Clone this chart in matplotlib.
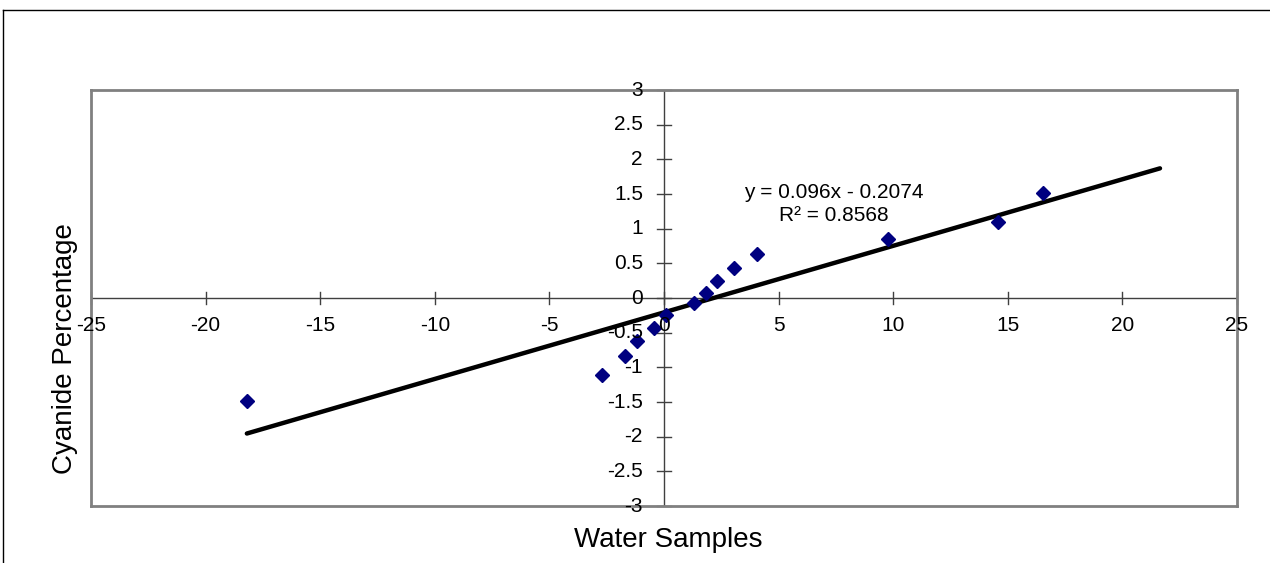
import numpy as np
import matplotlib
matplotlib.use("Agg")
import matplotlib.pyplot as plt
from matplotlib.lines import Line2D

plt.rcParams['font.family'] = ['Liberation Sans', 'DejaVu Sans']

# data
x_vals = [-18.2, -2.7, -1.7, -1.18, -0.44, 0.09, 1.31, 1.83, 2.3, 3.05, 4.06, 9.77, 14.57, 16.54]
y_vals = [-1.49, -1.11, -0.84, -0.62, -0.43, -0.25, -0.07, 0.07, 0.25, 0.43, 0.63, 0.85, 1.10, 1.51]
slope = 0.096
intercept = -0.2074
r2 = 0.8568
forecast_fwd = 5.1

x_ticks = [-25, -20, -15, -10, -5, 0, 5, 10, 15, 20, 25]
y_ticks = [-3, -2.5, -2, -1.5, -1, -0.5, 0, 0.5, 1, 1.5, 2, 2.5, 3]

fig = plt.figure(figsize=(12.7, 5.63), dpi=100)
ax = fig.add_axes([91 / 1270, 1 - 506 / 563, (1237 - 91) / 1270, (506 - 90) / 563])

# outer chart frame (partially cropped)
fig.add_artist(Line2D([3 / 1270, 1.0], [1 - 10 / 563, 1 - 10 / 563], color='black', lw=1))
fig.add_artist(Line2D([3 / 1270, 3 / 1270], [0, 1 - 10 / 563], color='black', lw=1))

# trendline
tx = np.array([min(x_vals), max(x_vals) + forecast_fwd])
ax.plot(tx, slope * tx + intercept, color='black', lw=3.2, solid_capstyle='round', zorder=2)
ax.plot(x_vals, y_vals, linestyle='none', marker='D', markersize=7,
        color='#000080', zorder=3)

ax.set_xlim(-25, 25)
ax.set_ylim(-3, 3)

for s in ax.spines.values():
    s.set_color('#808080')
    s.set_linewidth(2)

# axes crossing at zero
ax.axhline(0, color='#404040', lw=1, zorder=1)
ax.axvline(0, color='#404040', lw=1, zorder=1)
for xt in x_ticks:
    ax.plot([xt, xt], [-0.087, 0.087], color='#404040', lw=1, zorder=1, clip_on=False)
    ax.text(xt, -0.255, str(xt), ha='center', va='top', fontsize=15)
for yt in y_ticks:
    ax.plot([-0.3, 0.3], [yt, yt], color='#404040', lw=1, zorder=1, clip_on=False)
    ax.text(-0.92, yt, '%g' % yt, ha='right', va='center', fontsize=15)

ax.set_xticks([])
ax.set_yticks([])

ax.text(7.4, 1.52, 'y = 0.096x - 0.2074', ha='center', va='center', fontsize=15)
ax.text(7.4, 1.19, 'R\u00b2 = %.4f' % r2, ha='center', va='center', fontsize=15)

fig.text(668 / 1270, 1 - 540 / 563, 'Water Samples', ha='center', va='center', fontsize=20)
fig.text(65 / 1270, 1 - 349 / 563, 'Cyanide Percentage', ha='center', va='center',
         rotation=90, fontsize=20)

fig.savefig('out.png', dpi=100)
